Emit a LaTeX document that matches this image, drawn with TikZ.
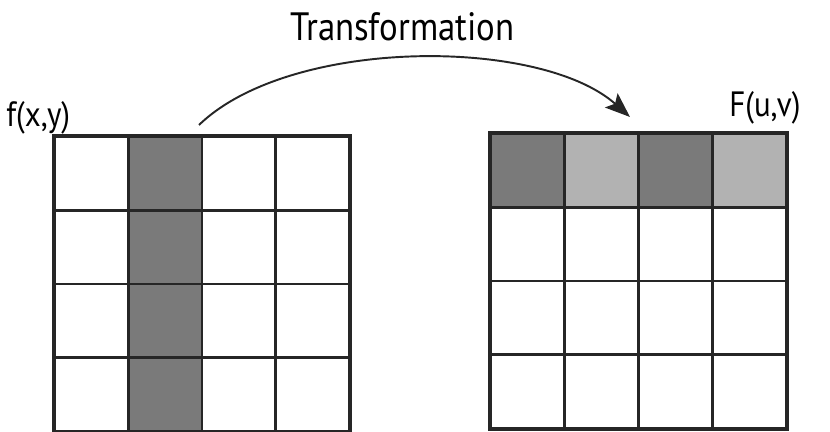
\documentclass[tikz,border=0pt]{standalone}
\usepackage{fontspec}
\setmainfont{PT Sans}[FakeStretch=0.88]
\usetikzlibrary{arrows.meta}

\definecolor{darkcell}{gray}{0.48}
\definecolor{lightcell}{gray}{0.70}

\begin{document}
\begin{tikzpicture}[
        cell/.style={
            rectangle,
            draw=black!85,
            line width=1.4pt,
            minimum size=1.47cm,
            inner sep=0pt,
            fill=white
        },
        frame/.style={
            draw=black!85,
            line width=1.6pt
        },
        label/.style={
            font=\fontsize{20pt}{23pt}\selectfont,
            inner sep=0pt,
            anchor=base west
        },
        arrow/.style={
            -{Stealth[length=5mm,width=3.8mm,inset=1mm]},
            line width=1.1pt,
            draw=black!85
        }
    ]

    \useasboundingbox (0,0) rectangle (16.6,8.64);

    % input image f(x,y)
    \foreach \c/\col in {1/white,2/darkcell,3/white,4/white}
        \foreach \r in {1,...,4}
            \node[cell, fill=\col] (f-\c-\r) at ({1.1+1.47*(\c-0.5)}, {0.02+1.47*(\r-0.5)}) {};
    \draw[frame] (f-1-4.north west) rectangle (f-4-1.south east);

    % transformed image F(u,v)
    \foreach \c/\top in {1/darkcell,2/lightcell,3/darkcell,4/lightcell} {
        \foreach \r in {1,2,3}
            \node[cell] (F-\c-\r) at ({9.82+1.475*(\c-0.5)}, {0.08+1.47*(\r-0.5)}) {};
        \node[cell, fill=\top] (F-\c-4) at ({9.82+1.475*(\c-0.5)}, {0.08+1.47*3.5}) {};
    }
    \draw[frame] (F-1-4.north west) rectangle (F-4-1.south east);

    \node[label] (f-name) at (0.12, 6.1) {f(x,y)};
    \node[label] (F-name) at (14.58, 6.3) {F(u,v)};
    \node[label, anchor=base, font=\fontsize{22.5pt}{26pt}\selectfont] (trans) at (8.05, 7.82) {Transformation};

    \coordinate (src) at (3.98, 6.14);
    \coordinate (dst) at (12.6, 6.3);
    \draw[arrow] (src) .. controls (5.8, 7.9) and (10.8, 7.9) .. (dst);

\end{tikzpicture}
\end{document}
